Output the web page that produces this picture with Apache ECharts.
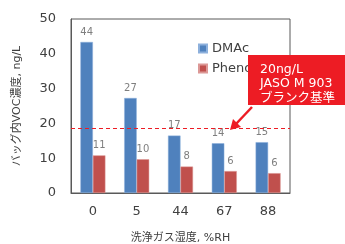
<!DOCTYPE html>
<html><head><meta charset="utf-8">
<script src="https://cdn.jsdelivr.net/npm/echarts@6/dist/echarts.min.js"></script>
<style>html,body{margin:0;padding:0;background:#fff}#c{width:345px;height:244px}</style>
</head><body><div id="c"></div>
<script>
const categories = ['0', '5', '44', '67', '88'];
const dmacValues = [43.4, 27.3, 16.5, 14.3, 14.6];
const phenolValues = [10.8, 9.7, 7.6, 6.3, 5.7];
const dmacLabels = ['44', '27', '17', '14', '15'];
const phenolLabels = ['11', '10', '8', '6', '6'];
const blankLimit = 18.6;
const yTicks = [0, 10, 20, 30, 40, 50];

const chart = echarts.init(document.getElementById('c'));
const font = '"DejaVu Sans", "Noto Sans CJK JP", sans-serif';
chart.setOption({
  animation: false,
  textStyle: { fontFamily: font },
  grid: { left: 71, top: 19, right: 55, bottom: 51, show: true, borderColor: '#595959', borderWidth: 1, outerBoundsMode: 'none', containLabel: false },
  legend: {
    orient: 'vertical', left: 193, top: 37, itemWidth: 8, itemHeight: 8, itemGap: 7,
    icon: 'rect', textStyle: { fontSize: 13, color: '#404040', fontFamily: font },
    data: ['DMAc', 'Phenol']
  },
  xAxis: {
    type: 'category', data: categories,
    name: '洗浄ガス湿度, %RH', nameLocation: 'middle', nameGap: 40,
    nameTextStyle: { fontSize: 11, color: '#404040' },
    axisLine: { lineStyle: { color: '#595959' } },
    axisTick: { show: false },
    axisLabel: { fontSize: 13, color: '#404040', margin: 12 }
  },
  yAxis: {
    type: 'value', min: yTicks[0], max: yTicks[yTicks.length - 1], interval: 10,
    name: 'バッグ内VOC濃度, ng/L', nameLocation: 'middle', nameGap: 48,
    nameTextStyle: { fontSize: 11, color: '#404040' },
    axisLine: { show: true, lineStyle: { color: '#595959' } },
    axisTick: { show: false },
    splitLine: { show: false },
    axisLabel: { fontSize: 13, color: '#404040', margin: 15 }
  },
  series: [
    {
      name: 'DMAc', type: 'bar', data: dmacValues, barWidth: 12.5, barGap: '0%',
      itemStyle: { color: '#4F81BD', borderColor: '#8DB0DC', borderWidth: 0.5 },
      label: { show: true, position: 'top', fontSize: 10, color: '#7f7f7f', distance: 5,
        formatter: p => dmacLabels[p.dataIndex] },
      markLine: {
        silent: true, symbol: 'none', label: { show: false },
        lineStyle: { color: '#ED1C24', type: [4, 3], width: 1 },
        data: [{ yAxis: blankLimit }]
      }
    },
    {
      name: 'Phenol', type: 'bar', data: phenolValues, barWidth: 12.5,
      itemStyle: { color: '#C0504D', borderColor: '#DC9896', borderWidth: 0.5 },
      label: { show: true, position: 'top', fontSize: 10, color: '#7f7f7f', distance: 5,
        formatter: p => phenolLabels[p.dataIndex] }
    }
  ],
  graphic: [
    { type: 'rect', left: 248, top: 55, shape: { width: 97, height: 50 }, style: { fill: '#ED1C24' }, z: 100 },
    { type: 'text', left: 260, top: 62, z: 101,
      style: { text: '20ng/L\nJASO M 903\nブランク基準', fill: '#fff', fontSize: 12.5, lineHeight: 14.5, fontFamily: font } },
    { type: 'line', shape: { x1: 252, y1: 107, x2: 236, y2: 124 }, style: { stroke: '#ED1C24', lineWidth: 2.5 }, z: 100 },
    { type: 'polygon', shape: { points: [[230, 130], [233, 119], [241, 127]] }, style: { fill: '#ED1C24' }, z: 100 }
  ]
});
</script></body></html>
